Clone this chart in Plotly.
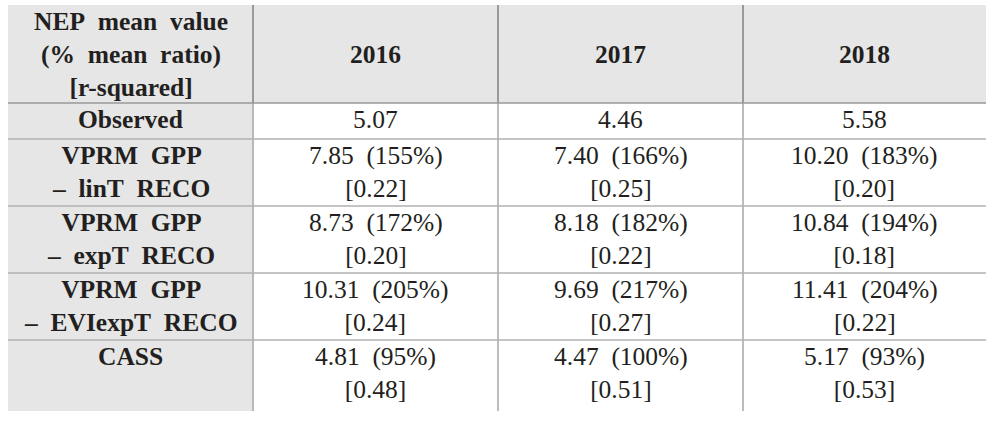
import plotly.graph_objects as go

# ---------------- data ----------------
years = ["2016", "2017", "2018"]
header_label = "NEP  mean  value<br>(%  mean  ratio)<br>[r-squared]"
row_labels = [
    "Observed",
    "VPRM  GPP<br>–  linT  RECO",
    "VPRM  GPP<br>–  expT  RECO",
    "VPRM  GPP<br>–  EVIexpT  RECO",
    "CASS",
]
nep_2016 = [5.07, 7.85, 8.73, 10.31, 4.81]
nep_2017 = [4.46, 7.40, 8.18, 9.69, 4.47]
nep_2018 = [5.58, 10.20, 10.84, 11.41, 5.17]
ratio_2016 = [None, 155, 172, 205, 95]
ratio_2017 = [None, 166, 182, 217, 100]
ratio_2018 = [None, 183, 194, 204, 93]
r2_2016 = [None, 0.22, 0.20, 0.24, 0.48]
r2_2017 = [None, 0.25, 0.22, 0.27, 0.51]
r2_2018 = [None, 0.20, 0.18, 0.22, 0.53]

nep = [nep_2016, nep_2017, nep_2018]
ratio = [ratio_2016, ratio_2017, ratio_2018]
r2 = [r2_2016, r2_2017, r2_2018]

# ---------------- layout geometry ----------------
W, H = 986, 424
col_edges = [8, 253, 498, 743, 986]
row_edges = [5, 103, 139, 206, 273, 340, 411]
FIRST_LINE = 16.5
LINE_GAP = 33
GRAY = "#e6e6e6"
TXT = "#231f20"
NBSP = "\u00a0"


def fix(s):
    return s.replace("  ", NBSP + NBSP)


def cell_text(v, r, q):
    if r is None:
        return f"{v:.2f}"
    return f"{v:.2f}{NBSP}{NBSP}({r}%)<br>[{q:.2f}]"


shapes = []
annotations = []

# backgrounds
shapes.append(dict(type="rect", xref="x", yref="y", x0=col_edges[0], x1=col_edges[-1],
                   y0=row_edges[0], y1=row_edges[1], fillcolor=GRAY, line_width=0, layer="below"))
shapes.append(dict(type="rect", xref="x", yref="y", x0=col_edges[0], x1=col_edges[1],
                   y0=row_edges[1], y1=row_edges[-1], fillcolor=GRAY, line_width=0, layer="below"))

# vertical lines
for cx in col_edges[1:-1]:
    shapes.append(dict(type="line", xref="x", yref="y", x0=cx, x1=cx,
                       y0=row_edges[0], y1=row_edges[1], line=dict(color="#808080", width=1.5)))
    shapes.append(dict(type="line", xref="x", yref="y", x0=cx, x1=cx,
                       y0=row_edges[1], y1=row_edges[-1], line=dict(color="#a6a6a6", width=1.5)))
# horizontal lines
for i, ry in enumerate(row_edges[1:-1]):
    shapes.append(dict(type="line", xref="x", yref="y", x0=col_edges[0], x1=col_edges[-1],
                       y0=ry, y1=ry, line=dict(color="#999999" if i == 0 else "#b0b0b0", width=1.5)))


def add_text(text, ci, ri, bold=False, centered=False):
    n = text.count("<br>") + 1
    top, bot = row_edges[ri], row_edges[ri + 1]
    if centered:
        yc = (top + bot) / 2
    else:
        yc = top + FIRST_LINE + (n - 1) * LINE_GAP / 2
    xc = (col_edges[ci] + col_edges[ci + 1]) / 2
    annotations.append(dict(
        x=xc, y=yc, xref="x", yref="y", text=(f"<b>{text}</b>" if bold else text),
        showarrow=False, xanchor="center", yanchor="middle", align="center",
        font=dict(family="Liberation Serif", size=25.5, color=TXT)))


# header
add_text(fix(header_label).replace("<br>", "</b><br><b>"), 0, 0, bold=True)
for j, yr in enumerate(years):
    add_text(yr, j + 1, 0, bold=True, centered=True)

# body
for i, lab in enumerate(row_labels):
    add_text(fix(lab).replace("<br>", "</b><br><b>"), 0, i + 1, bold=True)
    for j in range(3):
        add_text(cell_text(nep[j][i], ratio[j][i], r2[j][i]), j + 1, i + 1)

fig = go.Figure()
fig.add_trace(go.Scatter(x=[0, W], y=[0, H], mode="markers", marker=dict(opacity=0),
                         hoverinfo="skip", showlegend=False))
fig.update_layout(
    width=W, height=H, margin=dict(l=0, r=0, t=0, b=0),
    paper_bgcolor="white", plot_bgcolor="white",
    xaxis=dict(range=[0, W], visible=False, fixedrange=True),
    yaxis=dict(range=[H, 0], visible=False, fixedrange=True),
    shapes=shapes, annotations=annotations, showlegend=False,
)
fig.write_html("out.html", config={"displayModeBar": False},
               post_script="document.body.style.margin='0';")
